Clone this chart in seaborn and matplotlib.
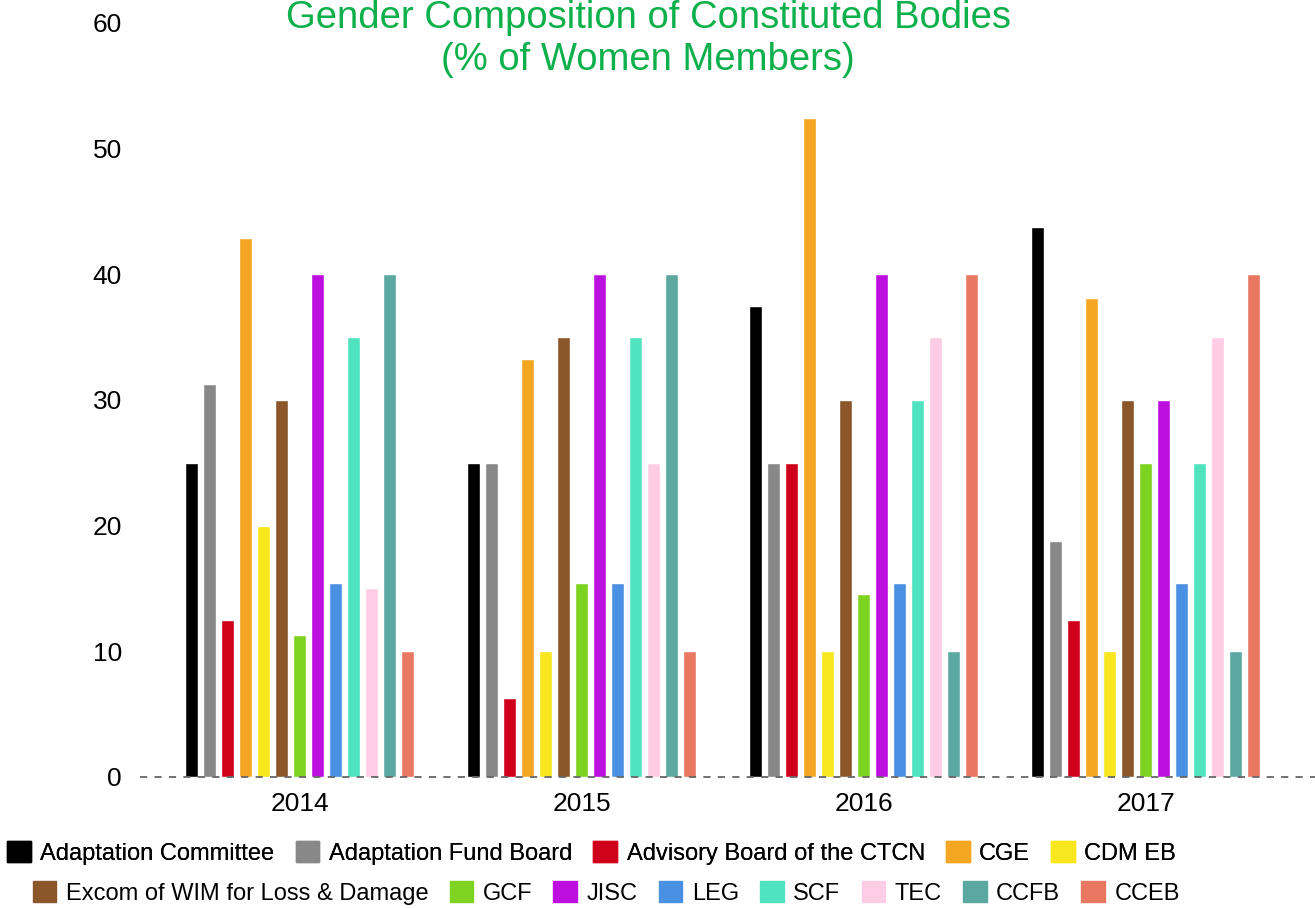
import pandas as pd
import matplotlib.pyplot as plt
import seaborn as sns
from matplotlib.patches import Patch


years = ["2014", "2015", "2016", "2017"]

bodies = [
    "Adaptation Committee",
    "Adaptation Fund Board",
    "Advisory Board of the CTCN",
    "CGE",
    "CDM EB",
    "Excom of WIM for Loss & Damage",
    "GCF",
    "JISC",
    "LEG",
    "SCF",
    "TEC",
    "CCFB",
    "CCEB",
]

# % of women members per year (2014, 2015, 2016, 2017)
adaptation_committee = [25, 25, 37.5, 43.75]
adaptation_fund_board = [31.25, 25, 25, 18.75]
ctcn_board = [12.5, 6.25, 25, 12.5]
cge = [42.9, 33.3, 52.4, 38.1]
cdm_eb = [20, 10, 10, 10]
wim_excom = [30, 35, 30, 30]
gcf = [11.3, 15.4, 14.6, 25]
jisc = [40, 40, 40, 30]
leg = [15.4, 15.4, 15.4, 15.4]
scf = [35, 35, 30, 25]
tec = [15, 25, 35, 35]
ccfb = [40, 40, 10, 10]
cceb = [10, 10, 40, 40]

values = [adaptation_committee, adaptation_fund_board, ctcn_board, cge, cdm_eb,
          wim_excom, gcf, jisc, leg, scf, tec, ccfb, cceb]

colors = ["#000000", "#888888", "#d0021b", "#f5a623", "#f8e71c", "#8b572a",
          "#7ed321", "#bd10e0", "#4a90e2", "#50e3c2", "#ffcce6", "#5ba8a1",
          "#e97862"]

rows = []
for body, vals in zip(bodies, values):
    for year, v in zip(years, vals):
        rows.append({"year": year, "body": body, "pct": v})
df = pd.DataFrame(rows)

sns.set_style("white")
plt.rcParams["font.family"] = ["Liberation Sans", "DejaVu Sans"]
plt.rcParams["text.color"] = "black"
plt.rcParams["xtick.color"] = "black"
plt.rcParams["ytick.color"] = "black"

fig = plt.figure(figsize=(13.15, 9.08), dpi=100)
ax = fig.add_axes([0.1065, 0.1443, 0.8935, 0.8304])

sns.barplot(data=df, x="year", y="pct", hue="body", hue_order=bodies,
            palette=colors, width=0.83, gap=0.28, ax=ax, legend=False,
            saturation=1)

ax.set_xlim(-0.567, 3.6)
ax.set_ylim(0, 60)
ax.set_yticks([0, 10, 20, 30, 40, 50, 60])
ax.set_xlabel("")
ax.set_ylabel("")
ax.tick_params(axis="both", length=0, labelsize=19)
ax.tick_params(axis="y", pad=13)
ax.tick_params(axis="x", pad=11)
for s in ax.spines.values():
    s.set_visible(False)
ax.axhline(0, color="#666666", lw=1.3, ls=(0, (4, 4)), zorder=5, clip_on=False)

fig.text(0.493, 0.957, "Gender Composition of Constituted Bodies\n(% of Women Members)",
         ha="center", va="center", fontsize=27.5, color="#0db04b", linespacing=1.2)

handles = [Patch(facecolor=c, edgecolor=c) for c in colors]
leg1 = fig.legend(handles[:5], bodies[:5], ncol=5, loc="center",
                  bbox_to_anchor=(0.45, 0.0606), frameon=False, fontsize=17,
                  handlelength=1.0, handleheight=1.0, handletextpad=0.4,
                  columnspacing=0.9, borderaxespad=0)
fig.legend(handles[5:], bodies[5:], ncol=8, loc="center",
           bbox_to_anchor=(0.461, 0.0165), frameon=False, fontsize=17,
           handlelength=1.0, handleheight=1.0, handletextpad=0.4,
           columnspacing=0.9, borderaxespad=0)
fig.add_artist(leg1)

fig.savefig("out.png", dpi=100)
